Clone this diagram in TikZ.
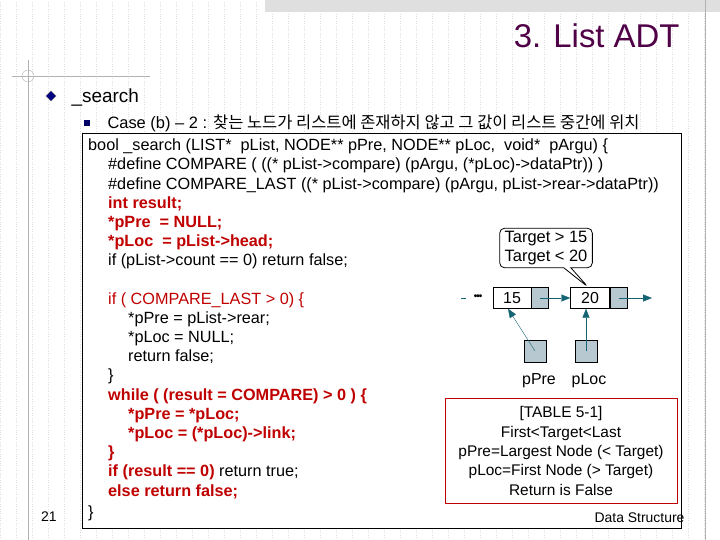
\documentclass[tikz,border=0pt]{standalone}
\usepackage{fontspec}
\setmainfont{Liberation Sans}
\newfontfamily\krfont{Noto Sans CJK KR}
\usetikzlibrary{arrows.meta,shapes.geometric,shapes.callouts,calc}
\definecolor{codered}{RGB}{192,0,0}
\definecolor{titlepurple}{RGB}{80,0,70}
\definecolor{cellblue}{RGB}{184,200,208}
\definecolor{arrowteal}{RGB}{20,100,115}
\definecolor{gridgray}{RGB}{222,222,222}
\tikzset{
  codeline/.style={anchor=base west,inner sep=0pt,font=\fontsize{16.3}{18}\selectfont},
  hot/.style={codeline,text=codered},
  cellbox/.style={draw,minimum height=21bp,inner sep=0pt,font=\fontsize{16}{18}\selectfont},
  ptrbox/.style={draw,fill=cellblue,minimum width=17bp,minimum height=21bp,inner sep=0pt},
  linkarrow/.style={draw=arrowteal,-{Triangle[length=9bp,width=7bp]}},
}
\begin{document}
\begin{tikzpicture}[x=1bp,y=-1bp]
\useasboundingbox (0,0) rectangle (720,540);
% background grid and slide frame
\draw[gridgray,dotted] (0,0) grid[step=16] (720,540);
\fill[gray!25] (265,0) rectangle (720,12);
\draw[gray!60] (705,0) -- (705,540);
\draw[gray!60] (12,76) -- (150,76);
\draw[gray!60] (28,60) -- (28,540);
\draw[gray!60] (28,76) circle (6);
\node[anchor=base east,text=titlepurple,font=\fontsize{33}{36}\selectfont] (title) at (683,48) {3. List ADT};
% bullets
\node[diamond,fill=blue!50!black,draw=gray,inner sep=2.6bp] (dia) at (51,96) {};
\node[anchor=base west,font=\fontsize{19}{22}\selectfont] (head) at (68,103) {\_search};
\node[fill=blue!40!black,inner sep=2.6bp] (sq) at (87,123) {};
\node[anchor=base west,font=\fontsize{16.5}{18}\selectfont] (case) at (104,129) {Case (b) – 2 : {\krfont 찾는 노드가 리스트에 존재하지 않고 그 값이 리스트 중간에 위치}};
% code box
\draw[fill=white] (82,133) rectangle (681,528);
\node[codeline] (c1) at (88,151) {bool \_search (LIST*\ \ pList, NODE** pPre, NODE** pLoc,\ \ void*\ \ pArgu) \{};
\node[codeline] (c2) at (108,170) {\#define COMPARE ( ((* pList->compare) (pArgu, (*pLoc)->dataPtr)) )};
\node[codeline] (c3) at (108,190) {\#define COMPARE\_LAST ((* pList->compare) (pArgu, pList->rear->dataPtr))};
\node[hot] (c4) at (108,209) {\bfseries int result;};
\node[hot] (c5) at (108,228) {\bfseries *pPre\ \ = NULL;};
\node[hot] (c6) at (108,247) {\bfseries *pLoc\ \ = pList->head;};
\node[codeline] (c7) at (108,266) {if (pList->count == 0) return false;};
\node[hot] (c8) at (108,304) {if ( COMPARE\_LAST > 0) \{};
\node[codeline] (c9) at (128,323) {*pPre = pList->rear;};
\node[codeline] (c10) at (128,342) {*pLoc = NULL;};
\node[codeline] (c11) at (128,361) {return false;};
\node[codeline] (c12) at (108,380) {\}};
\node[hot] (c13) at (108,400) {\bfseries while ( (result = COMPARE) > 0 ) \{};
\node[hot] (c14) at (128,419) {\bfseries *pPre = *pLoc;};
\node[hot] (c15) at (128,438) {\bfseries *pLoc = (*pLoc)->link;};
\node[hot] (c16) at (108,457) {\bfseries \}};
\node[hot] (c17) at (108,476) {\bfseries if (result == 0) \textcolor{black}{\mdseries return true;}};
\node[hot] (c18) at (108,496) {\bfseries else return false;};
\node[codeline] (c19) at (88,517) {\}};
% list picture
\node[cellbox,minimum width=38bp] (v15) at (512,298) {15};
\node[ptrbox,anchor=west] (p15) at (v15.east) {};
\node[cellbox,minimum width=39bp] (v20) at (590,298) {20};
\node[ptrbox,anchor=west,line width=1pt] (p20) at (v20.east) {};
\coordinate (tail) at (652,298);
\coordinate (dots) at (461,298);
\draw[arrowteal] (dots) -- ++(5,0);
\node[font=\bfseries,inner sep=0pt] (ell) at (478,297) {\textbullet\kern-1pt\textbullet\kern-1pt\textbullet};
\draw[linkarrow] (p15.center) -- (v20.west);
\draw[linkarrow] (p20.center) -- (tail);
\node[draw,fill=cellblue,minimum size=22bp,inner sep=0pt] (pre) at (535,351) {};
\node[draw,fill=cellblue,minimum size=22bp,inner sep=0pt] (loc) at (586,351) {};
\draw[linkarrow] (pre.center) -- ($(v15.south)+(-4,0)$);
\draw[linkarrow] (loc.center) -- (loc.center |- v20.south);
\node[font=\fontsize{16}{18}\selectfont,anchor=base] (lpre) at (539,384) {pPre};
\node[font=\fontsize{16}{18}\selectfont,anchor=base] (lloc) at (589,384) {pLoc};
\node[rectangle callout,rounded corners=5bp,draw,thick,fill=white,align=left,
  font=\fontsize{16.5}{19}\selectfont,inner xsep=5bp,inner ysep=3bp,callout absolute pointer={(588,287)}] (tip) at (546,248) {Target > 15\\Target < 20};
% table note
\node[draw=codered,fill=white,minimum width=232bp,minimum height=105bp,align=center,
  font=\fontsize{15.5}{19.5}\selectfont,inner sep=0pt] (table) at (561,451) {[TABLE 5-1]\\First<Target<Last\\pPre=Largest Node (< Target)\\pLoc=First Node (> Target)\\Return is False};
\node[anchor=base,font=\fontsize{14}{16}\selectfont] (page) at (49,521) {21};
\node[anchor=base east,font=\fontsize{14}{16}\selectfont] (footer) at (688,522) {Data Structure};
\end{tikzpicture}
\end{document}
